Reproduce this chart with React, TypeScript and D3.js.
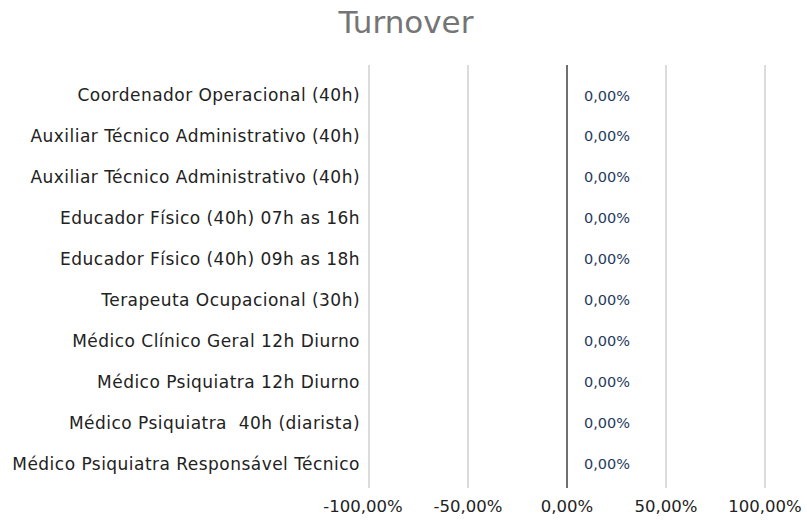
import React, { useEffect, useRef } from 'react'
import * as d3 from 'd3'

const categories = [
  'Coordenador Operacional (40h)',
  'Auxiliar Técnico Administrativo (40h)',
  'Auxiliar Técnico Administrativo (40h) ',
  'Educador Físico (40h) 07h as 16h',
  'Educador Físico (40h) 09h as 18h',
  'Terapeuta Ocupacional (30h)',
  'Médico Clínico Geral 12h Diurno',
  'Médico Psiquiatra 12h Diurno',
  'Médico Psiquiatra  40h (diarista)',
  'Médico Psiquiatra Responsável Técnico',
]
const turnover = [0, 0, 0, 0, 0, 0, 0, 0, 0, 0]
const ticks = [-1, -0.5, 0, 0.5, 1]

const fmt = (v: number) => (v * 100).toFixed(2).replace('.', ',') + '%'

export default function App() {
  const ref = useRef<SVGSVGElement>(null)

  useEffect(() => {
    const svg = d3.select(ref.current)
    svg.selectAll('*').remove()
    const font = "'DejaVu Sans', sans-serif"

    const x = d3.scaleLinear().domain([-1, 1]).range([369, 765])
    const y = d3.scaleBand().domain(categories.map((c, i) => i + '')).range([75, 484])

    svg.append('text')
      .attr('x', 406).attr('y', 33)
      .attr('text-anchor', 'middle')
      .style('font-family', font).attr('font-size', 31)
      .attr('fill', '#757575')
      .text('Turnover')

    svg.selectAll('.grid')
      .data(ticks)
      .enter()
      .append('line')
      .attr('x1', d => x(d)).attr('x2', d => x(d))
      .attr('y1', 65).attr('y2', 488)
      .attr('stroke', d => d === 0 ? '#222' : '#d0d0d0')
      .attr('stroke-width', d => d === 0 ? 1.3 : 1.5)

    svg.selectAll('.tick')
      .data(ticks)
      .enter()
      .append('text')
      .attr('x', d => x(d) - (d === -1 ? 6 : 0)).attr('y', 512)
      .attr('text-anchor', 'middle')
      .style('font-family', font).attr('font-size', 16.5)
      .attr('fill', '#222')
      .text(d => fmt(d))

    svg.selectAll('.cat')
      .data(categories)
      .enter()
      .append('text')
      .attr('x', 360)
      .attr('y', (d, i) => (y(i + '') as number) + y.bandwidth() / 2)
      .attr('dy', '0.35em')
      .attr('text-anchor', 'end')
      .style('font-family', font).attr('font-size', 17)
      .style('letter-spacing', '0.47px')
      .style('white-space', 'pre')
      .attr('fill', '#222')
      .text(d => d.trimEnd())

    svg.selectAll('.bar')
      .data(turnover)
      .enter()
      .append('rect')
      .attr('x', d => Math.min(x(0), x(d)))
      .attr('width', d => Math.abs(x(d) - x(0)))
      .attr('y', (d, i) => (y(i + '') as number) + 8)
      .attr('height', y.bandwidth() - 16)
      .attr('fill', '#1f3864')

    svg.selectAll('.val')
      .data(turnover)
      .enter()
      .append('text')
      .attr('x', d => x(d) + 17)
      .attr('y', (d, i) => (y(i + '') as number) + y.bandwidth() / 2)
      .attr('dy', '0.35em')
      .style('font-family', font).attr('font-size', 14.5)
      .attr('fill', '#1f3a60')
      .text(d => fmt(d))
  }, [])

  return (
    <svg ref={ref} width={807} height={522}
      style={{ position: 'absolute', left: 0, top: 0, background: '#fff' }} />
  )
}
